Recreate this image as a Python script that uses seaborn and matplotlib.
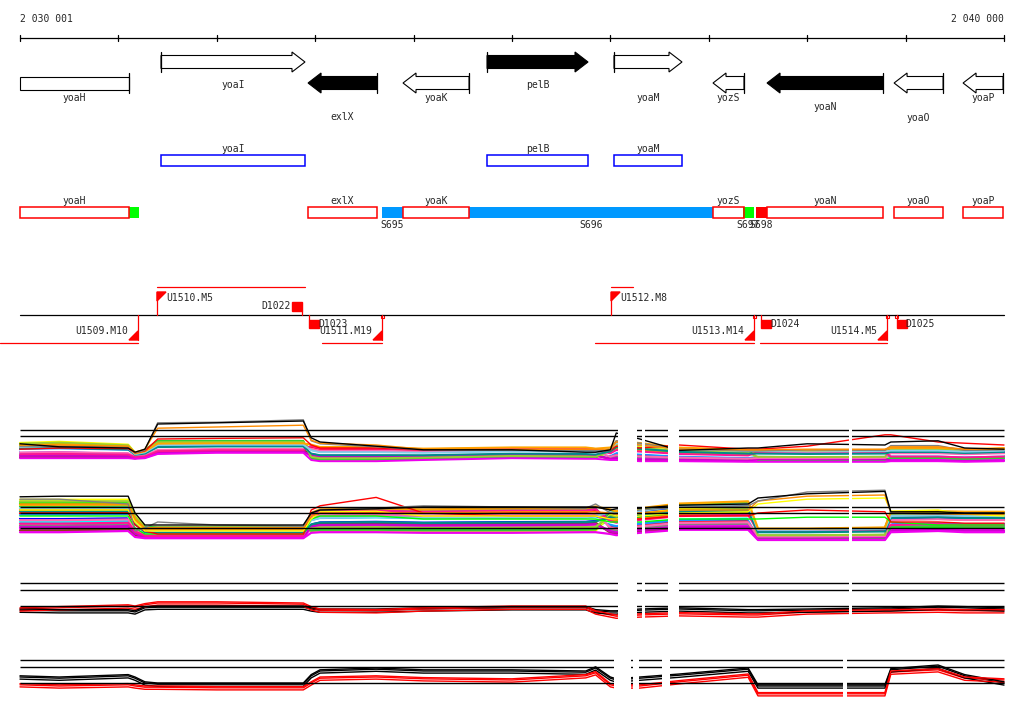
import numpy as np
import pandas as pd
import matplotlib
matplotlib.use("Agg")
import matplotlib.pyplot as plt
from matplotlib.patches import Polygon, Rectangle
import seaborn as sns

sns.set_theme(style="white")
plt.rcParams["font.family"] = ["DejaVu Sans Mono", "DejaVu Sans"]

# genome window shown
WIN_START = 2030001
WIN_END = 2040000

# genes
gene_names = ["yoaH", "yoaI", "exlX", "yoaK", "pelB", "yoaM", "yozS", "yoaN", "yoaO", "yoaP"]
gene_starts = [2030001, 2031434, 2032928, 2033893, 2034747, 2036037, 2037043, 2037592, 2038883, 2039584]
gene_ends = [2031109, 2032897, 2033629, 2034564, 2035773, 2036728, 2037358, 2038771, 2039381, 2039990]
gene_strands = ["-", "+", "-", "-", "+", "+", "-", "-", "-", "-"]
gene_filled = [False, False, True, False, True, False, False, True, False, False]
gene_label_y = [98, 85, 117, 98, 85, 98, 98, 107, 118, 98]

blue_row = ["yoaI", "pelB", "yoaM"]
red_row = ["yoaH", "exlX", "yoaK", "yozS", "yoaN", "yoaO", "yoaP"]

# segments
seg_names = ["", "S695", "S696", "S697", "S698"]
seg_starts = [2031109, 2033680, 2034564, 2037348, 2037480]
seg_ends = [2031210, 2033893, 2037043, 2037459, 2037592]
seg_colors = ["#00ff00", "#0099ff", "#0099ff", "#00ff00", "#ff0000"]

# promoters / terminators
fwd_prom = ["U1510.M5", "U1512.M8"]
fwd_prom_pos = [2031393, 2036007]
fwd_tx = [(2031393, 2032897), (2036007, 2036230)]
fwd_term = ["D1022"]
fwd_term_pos = [2032867]
rev_prom = ["U1509.M10", "U1511.M19", "U1513.M14", "U1514.M5"]
rev_prom_pos = [2031200, 2033680, 2037460, 2038811]
rev_tx = [(2029800, 2031200), (2033070, 2033680), (2035844, 2037460), (2037521, 2038811)]
rev_term = ["D1023", "D1024", "D1025"]
rev_term_pos = [2032938, 2037530, 2038910]
small_marks = [2033670, 2037450, 2038800, 2038895]

# expression tracks: shared breakpoints (bp)
X = [2030001, 2030400, 2031100, 2031170, 2031270, 2031400, 2032000, 2032880, 2032960,
     2033050, 2033620, 2034100, 2035000, 2035750, 2035850, 2036000, 2036060, 2036300,
     2036700, 2037400, 2037500, 2038000, 2038790, 2038850, 2039330, 2039600, 2040000]
block_edges = [2031200, 2032930, 2035900, 2037450, 2038820]

t1_hi = [11.0, 11.2, 10.7, 9.3, 9.8, 11.3, 11.3, 11.3, 10.7, 10.3, 10.3, 10.0, 10.2, 10.2,
         10.0, 10.2, 11.3, 11.0, 10.2, 9.8, 9.8, 9.7, 9.8, 10.0, 10.0, 9.8, 10.0]
t1_lo = [8.3, 8.3, 8.3, 8.2, 8.3, 9.0, 9.2, 9.2, 8.0, 7.8, 7.8, 8.0, 8.3, 8.2, 8.2, 8.0,
         8.0, 7.8, 7.8, 7.7, 7.7, 7.7, 7.7, 7.8, 7.8, 7.7, 7.8]
t1_black = [10.7, 10.2, 10.0, 9.3, 9.8, 14.0, 14.2, 14.5, 11.7, 11.0, 10.3, 9.7, 9.7, 9.3,
            9.3, 9.7, 12.5, 11.5, 9.6, 10.0, 10.0, 10.7, 10.5, 11.0, 11.2, 10.0, 9.8]
t1_orange = [10.5, 10.5, 10.3, 9.3, 9.8, 13.3, 13.5, 13.8, 11.3, 10.8, 10.5, 9.8, 9.8, 9.8,
             9.8, 9.8, 11.0, 10.5, 9.8, 9.7, 9.7, 9.8, 9.8, 10.2, 10.2, 9.8, 9.8]
t1_grey = [10.3, 10.3, 10.2, 9.2, 9.6, 14.2, 14.3, 14.7, 11.2, 10.7, 10.2, 9.7, 9.6, 9.6,
           9.6, 9.6, 11.2, 10.8, 9.8, 9.5, 9.5, 9.7, 9.6, 10.4, 10.4, 9.6, 9.7]
t1_red = [9.8, 10.0, 9.9, 9.2, 9.5, 11.5, 11.6, 11.7, 10.5, 10.0, 10.0, 9.7, 9.7, 9.7,
          9.6, 9.6, 10.3, 10.0, 10.5, 9.8, 9.8, 10.3, 12.2, 12.2, 11.0, 10.8, 10.5]

t2_hi = [14.5, 14.5, 14.5, 11.7, 9.8, 9.7, 9.7, 9.7, 12.2, 12.8, 13.0, 12.8, 13.0, 13.0,
         13.3, 12.8, 12.5, 13.0, 13.8, 14.2, 9.5, 9.5, 9.7, 12.2, 12.3, 12.2, 12.2]
t2_lo = [8.8, 8.8, 9.0, 8.0, 7.8, 7.8, 7.8, 7.8, 8.7, 8.8, 8.8, 8.7, 8.7, 8.8, 8.8, 8.5,
         8.3, 8.7, 9.2, 9.2, 7.5, 7.5, 7.5, 8.8, 9.0, 8.8, 8.8]
t2_black = [14.7, 14.8, 14.8, 12.0, 10.0, 10.0, 10.0, 10.0, 12.0, 12.5, 12.7, 13.0, 13.0,
            13.0, 13.0, 12.5, 12.7, 12.8, 13.3, 13.5, 14.5, 15.2, 15.6, 12.2, 12.2, 12.0, 12.0]
t2_grey = [14.3, 14.3, 13.5, 9.0, 9.5, 10.5, 10.0, 9.8, 12.0, 12.5, 12.8, 13.2, 13.0, 12.8,
           13.5, 12.0, 12.0, 12.5, 13.0, 13.2, 14.0, 15.5, 15.8, 12.0, 11.8, 12.0, 12.0]
t2_orange = [13.5, 13.5, 13.5, 11.0, 9.5, 9.6, 9.6, 9.6, 11.5, 12.0, 12.0, 12.0, 12.2, 12.2,
             12.2, 12.0, 11.8, 12.0, 12.5, 12.5, 14.0, 14.8, 15.0, 12.0, 11.8, 11.8, 11.8]
t2_yellow = [12.5, 12.5, 12.5, 10.5, 9.0, 9.0, 9.0, 9.0, 11.0, 12.2, 12.3, 11.5, 11.5, 11.5,
             11.5, 11.0, 11.0, 11.5, 12.0, 12.2, 13.5, 14.3, 14.5, 12.3, 12.5, 11.8, 11.5]
t2_red = [12.0, 12.0, 12.0, 10.0, 9.0, 8.5, 8.5, 8.5, 12.5, 13.2, 14.6, 12.0, 11.5, 11.5,
          11.5, 11.0, 11.0, 11.0, 11.5, 11.5, 12.0, 12.5, 12.2, 10.5, 10.5, 10.3, 10.3]
t2_green = [11.5, 11.5, 11.5, 9.5, 8.5, 8.5, 8.5, 8.5, 11.0, 11.5, 11.5, 11.0, 11.0, 11.0,
            11.0, 10.5, 10.5, 10.5, 11.0, 11.0, 11.0, 11.3, 11.3, 10.5, 10.0, 10.0, 10.0]

t3_black = [11.3, 11.2, 11.2, 11.0, 11.7, 11.8, 11.8, 11.8, 11.5, 11.3, 11.3, 11.5, 11.7,
            11.7, 11.2, 11.0, 11.0, 11.3, 11.5, 11.2, 11.2, 11.3, 11.5, 11.5, 11.8, 11.7, 11.5]
t3_red = [11.5, 11.7, 12.0, 11.8, 12.2, 12.5, 12.5, 12.3, 11.7, 11.3, 11.2, 11.5, 11.8,
          11.8, 11.0, 10.5, 10.3, 10.5, 10.7, 10.5, 10.5, 11.0, 11.2, 11.2, 11.3, 11.2, 11.2]
t4_black = [13.0, 12.8, 13.2, 12.8, 12.0, 11.8, 11.8, 11.8, 13.2, 14.0, 14.3, 14.0, 14.0,
            13.8, 14.5, 12.8, 12.5, 12.8, 13.3, 14.3, 11.5, 11.5, 11.5, 14.2, 14.8, 13.2, 12.0]
t4_red = [11.7, 11.5, 11.7, 11.5, 11.3, 11.3, 11.2, 11.2, 12.0, 12.8, 13.0, 12.7, 12.5,
          13.2, 13.7, 11.7, 11.5, 11.5, 12.2, 13.3, 10.2, 10.2, 10.2, 13.8, 14.2, 12.8, 12.5]
replicate_shift = [0.0, -0.35, 0.2]

# conditions: colour and relative level inside the bundle, per block
cond_colors = ["#ff0000", "#00ff00", "#0000ff", "#ffff00", "#ff00ff", "#00ffff", "#ff8c00",
               "#808080", "#8b4513", "#1e90ff", "#33cc33", "#cc00cc", "#ffffff", "#ff69b4",
               "#9acd32", "#ff1493", "#008b8b", "#ee00ee", "#87ceeb", "#ffa500"]
cond_level = [
    [0.55, 0.35, 0.80, 0.30, 0.70, 0.45],
    [0.85, 0.70, 0.15, 0.60, 0.25, 0.20],
    [0.40, 0.55, 0.45, 0.80, 0.50, 0.65],
    [0.95, 0.90, 0.05, 0.75, 0.10, 0.85],
    [0.10, 0.05, 0.25, 0.15, 0.05, 0.10],
    [0.30, 0.45, 0.55, 0.40, 0.60, 0.30],
    [0.65, 0.80, 0.65, 0.55, 0.80, 0.55],
    [0.20, 0.15, 0.90, 0.20, 0.35, 0.75],
    [0.05, 0.25, 0.35, 0.05, 0.90, 0.95],
    [0.50, 0.60, 0.60, 0.35, 0.45, 0.40],
    [0.75, 0.95, 0.10, 0.90, 0.15, 0.25],
    [0.15, 0.10, 0.30, 0.10, 0.20, 0.05],
    [0.45, 0.40, 0.50, 0.45, 0.55, 0.50],
    [0.35, 0.30, 0.70, 0.25, 0.30, 0.60],
    [0.90, 0.85, 0.20, 0.70, 0.40, 0.90],
    [0.25, 0.20, 0.85, 0.50, 0.75, 0.35],
    [0.60, 0.50, 0.40, 0.65, 0.65, 0.70],
    [0.00, 0.00, 0.00, 0.00, 0.00, 0.00],
    [0.70, 0.65, 0.60, 0.85, 0.85, 0.80],
    [0.80, 0.75, 0.95, 0.95, 0.95, 1.00],
]

gaps_a = [(2036078, 2036271), (2036322, 2036352), (2036586, 2036698), (2038425, 2038456)]
gaps_b = [(2036037, 2036210), (2036230, 2036291), (2036525, 2036606), (2038364, 2038405)]

# ---------------------------------------------------------------------------
PX = (WIN_END - WIN_START) / 984.0
XL = WIN_START - 20 * PX
XR = XL + 1024 * PX
H = 714.0
FS = 7

fig = plt.figure(figsize=(10.24, 7.14), dpi=100)
ax = fig.add_axes([0, 0, 1, 1])
ax.set_xlim(XL, XR)
ax.set_ylim(H, 0)
ax.axis("off")

# ruler
ticks = list(range(WIN_START, WIN_END, 1000)) + [WIN_END]
ax.plot([WIN_START, WIN_END], [38, 38], color="black", lw=0.9)
for t in ticks:
    ax.plot([t, t], [35, 41], color="black", lw=0.9)
ax.text(WIN_START, 19, "2 030 001", fontsize=FS, va="center", ha="left")
ax.text(WIN_END, 19, "2 040 000", fontsize=FS, va="center", ha="right")


def draw_gene(s, e, strand, filled, yc):
    sh, hh, hl = 6.5, 10, 13 * PX
    fc = "black" if filled else "white"
    if strand == "+":
        pts = [(s, yc - sh), (e - hl, yc - sh), (e - hl, yc - hh), (e, yc),
               (e - hl, yc + hh), (e - hl, yc + sh), (s, yc + sh)]
        bar = s
    elif s <= WIN_START:
        pts = [(s, yc - sh), (e, yc - sh), (e, yc + sh), (s, yc + sh)]
        bar = e
    else:
        pts = [(e, yc - sh), (s + hl, yc - sh), (s + hl, yc - hh), (s, yc),
               (s + hl, yc + hh), (s + hl, yc + sh), (e, yc + sh)]
        bar = e
    ax.add_patch(Polygon(pts, closed=True, facecolor=fc, edgecolor="black", lw=0.8))
    ax.plot([bar, bar], [yc - hh, yc + hh], color="black", lw=0.9)


for name, s, e, st, f, ly in zip(gene_names, gene_starts, gene_ends, gene_strands,
                                 gene_filled, gene_label_y):
    yc = 62 if st == "+" else 83
    draw_gene(s, e, st, f, yc)
    ax.text((s + e) / 2, ly, name, fontsize=FS, ha="center", va="center")

# annotation rows
for name in blue_row:
    i = gene_names.index(name)
    s, e = gene_starts[i], gene_ends[i]
    ax.add_patch(Rectangle((s, 155), e - s, 11, fill=False, edgecolor="#0000ff", lw=1.1))
    ax.text((s + e) / 2, 149, name, fontsize=FS, ha="center", va="center")

for s, e, c in zip(seg_starts, seg_ends, seg_colors):
    ax.add_patch(Rectangle((s, 207), e - s, 11, facecolor=c, edgecolor="none"))
for name in red_row:
    i = gene_names.index(name)
    s, e = gene_starts[i], gene_ends[i]
    ax.add_patch(Rectangle((s, 207), e - s, 11, fill=False, edgecolor="#ff0000", lw=1.1))
    ax.text((s + e) / 2, 201, name, fontsize=FS, ha="center", va="center")
for name, s, e in zip(seg_names, seg_starts, seg_ends):
    if name:
        ax.text((s + e) / 2, 225, name, fontsize=FS, ha="center", va="center")

# transcription units
RED = "#ff0000"
ax.plot([WIN_START, WIN_END], [315, 315], color="black", lw=0.9)
for name, p in zip(fwd_prom, fwd_prom_pos):
    ax.plot([p, p], [315, 292], color=RED, lw=0.9)
    ax.add_patch(Polygon([(p, 292), (p + 9 * PX, 292), (p, 301)], color=RED))
    ax.text(p + 9 * PX, 298, name, fontsize=FS, ha="left", va="center")
for s, e in fwd_tx:
    ax.plot([s, e], [287, 287], color=RED, lw=0.9)
for name, p in zip(fwd_term, fwd_term_pos):
    ax.add_patch(Rectangle((p - 10 * PX, 302), 10 * PX, 9, color=RED))
    ax.plot([p, p], [311, 315], color=RED, lw=0.9)
    ax.text(p - 11 * PX, 306, name, fontsize=FS, ha="right", va="center")
for name, p in zip(rev_prom, rev_prom_pos):
    ax.plot([p, p], [315, 340], color=RED, lw=0.9)
    ax.add_patch(Polygon([(p, 340), (p, 331), (p - 9 * PX, 340)], color=RED))
    ax.text(p - 10 * PX, 331, name, fontsize=FS, ha="right", va="center")
for s, e in rev_tx:
    ax.plot([s, e], [343, 343], color=RED, lw=0.9)
for name, p in zip(rev_term, rev_term_pos):
    ax.plot([p, p], [315, 320], color=RED, lw=0.9)
    ax.add_patch(Rectangle((p, 320), 10 * PX, 8, color=RED))
    ax.text(p + 9 * PX, 324, name, fontsize=FS, ha="left", va="center")
for p in small_marks:
    ax.add_patch(Rectangle((p, 315), 3 * PX, 3, fill=False, edgecolor=RED, lw=0.8))


# expression tracks
def track_axes(top_px, bottom_px, ylo, yhi):
    tax = fig.add_axes([0, 1 - bottom_px / H, 1, (bottom_px - top_px) / H])
    tax.patch.set_alpha(0)
    return tax, (ylo, yhi)


def bundle_frame(lo, hi):
    blk = np.searchsorted(block_edges, X)
    rows = []
    for c, lev in enumerate(cond_level):
        for k, x in enumerate(X):
            v = lo[k] + lev[blk[k]] * (hi[k] - lo[k])
            rows.append((x, v, f"c{c}"))
    return pd.DataFrame(rows, columns=["pos", "value", "cond"])


def lines_frame(series):
    rows = []
    for name, vals in series:
        for x, v in zip(X, vals):
            rows.append((x, v, name))
    return pd.DataFrame(rows, columns=["pos", "value", "cond"])


def finish(tax, lim, refs, gaps):
    tax.hlines(refs, WIN_START, WIN_END, color="black", lw=1.0, zorder=3)
    for a, b in gaps:
        tax.axvspan(a, b, color="white", zorder=5, lw=0)
    tax.set_xlim(XL, XR)
    tax.set_ylim(*lim)
    tax.axis("off")


cond_pal = {f"c{i}": c for i, c in enumerate(cond_colors)}

# track 1
tax, lim = track_axes(412, 472, 6, 16)
sns.lineplot(data=bundle_frame(t1_lo, t1_hi), x="pos", y="value", hue="cond",
             palette=cond_pal, estimator=None, sort=False, legend=False, lw=1.4, ax=tax)
hl1 = [("red", t1_red), ("grey", t1_grey), ("darkorange", t1_orange), ("black", t1_black)]
sns.lineplot(data=lines_frame(hl1), x="pos", y="value", hue="cond",
             palette={n: n for n, _ in hl1}, estimator=None, sort=False, legend=False,
             lw=1.0, ax=tax)
finish(tax, lim, [13, 12], gaps_a)

# track 2
tax, lim = track_axes(477, 549, 6, 18)
sns.lineplot(data=bundle_frame(t2_lo, t2_hi), x="pos", y="value", hue="cond",
             palette=cond_pal, estimator=None, sort=False, legend=False, lw=1.6, ax=tax)
hl2 = [("lime", t2_green), ("red", t2_red), ("yellow", t2_yellow),
       ("darkorange", t2_orange), ("grey", t2_grey), ("black", t2_black)]
sns.lineplot(data=lines_frame(hl2), x="pos", y="value", hue="cond",
             palette={n: n for n, _ in hl2}, estimator=None, sort=False, legend=False,
             lw=1.0, ax=tax)
finish(tax, lim, [13, 12, 9.5], gaps_a)

# tracks 3 and 4: three replicates per colour
for (top, bot, ylo, yhi, blk, red, gaps) in [(576, 624, 9, 17, t3_black, t3_red, gaps_a),
                                             (653, 707, 8, 17, t4_black, t4_red, gaps_b)]:
    tax, lim = track_axes(top, bot, ylo, yhi)
    series = []
    for j, d in enumerate(replicate_shift):
        series.append((f"k{j}", [v + d for v in blk]))
        series.append((f"r{j}", [v + d for v in red]))
    pal = {n: ("black" if n[0] == "k" else "#ff0000") for n, _ in series}
    sns.lineplot(data=lines_frame(series), x="pos", y="value", hue="cond", palette=pal,
                 estimator=None, sort=False, legend=False, lw=1.0, ax=tax)
    finish(tax, lim, [15.83, 14.67, 12], gaps)

fig.savefig("out.png", dpi=100, facecolor="white")
